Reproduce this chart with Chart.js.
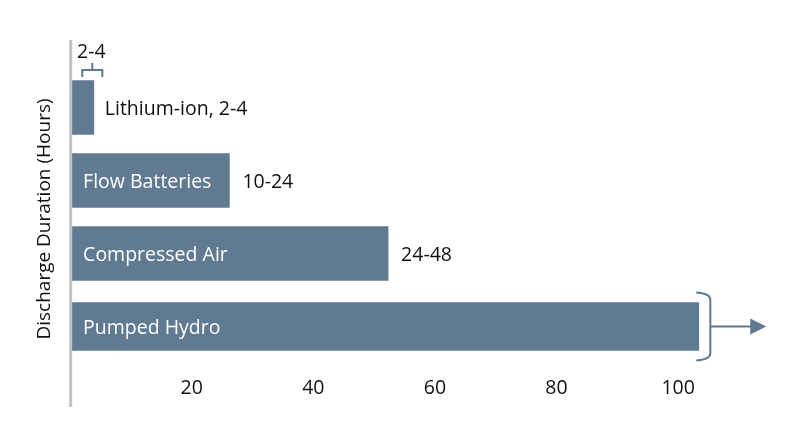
<!DOCTYPE html>
<html>
<head>
<meta charset="utf-8">
<script src="https://cdn.jsdelivr.net/npm/chart.js@4.4.0/dist/chart.umd.min.js"></script>
<style>
  html, body { margin: 0; padding: 0; background: #fff; }
  #wrap { width: 800px; height: 447px; }
</style>
</head>
<body>
<div id="wrap"><canvas id="storageChart"></canvas></div>
<script>
// values (hours)
const categories = ['Lithium-ion', 'Flow Batteries', 'Compressed Air', 'Pumped Hydro'];
const barLengths = [3.9, 26.2, 52.3, 103.4];
const rangeLabels = ['2-4', '10-24', '24-48', ''];
const xTicks = [20, 40, 60, 80, 100];
const lithiumBracket = [2, 5.3];
const hydroBracketAt = 105.3;
const hydroArrowTo = 114.5;
const axisTitle = 'Discharge Duration (Hours)';

const barColor = '#607a92';
const textColor = '#111111';
const fontFamily = '"Open Sans", "Noto Sans", sans-serif';

// pumped hydro bar is drawn a bit thinner than the rest
const mainBars = barLengths.map((v, i) => i < 3 ? v : null);
const hydroBars = barLengths.map((v, i) => i === 3 ? v : null);

const annotations = {
    id: 'annotations',
    afterDatasetsDraw(chart) {
        const ctx = chart.ctx;
        const x = chart.scales.x;
        const area = chart.chartArea;
        const bars = chart.getDatasetMeta(0).data;
        const hydro = chart.getDatasetMeta(1).data[3];

        ctx.save();
        // y axis line
        ctx.strokeStyle = '#c4c4c4';
        ctx.lineWidth = 3;
        ctx.beginPath();
        ctx.moveTo(70.7, 40);
        ctx.lineTo(70.7, 407);
        ctx.stroke();

        ctx.font = '19.5px ' + fontFamily;
        ctx.textBaseline = 'middle';
        ctx.textAlign = 'left';

        // lithium label sits outside its bar
        ctx.fillStyle = textColor;
        ctx.fillText(categories[0] + ', ' + rangeLabels[0], bars[0].x + 11, bars[0].y + 1.5);

        for (let i = 1; i < categories.length; i++) {
            const bar = i === 3 ? hydro : bars[i];
            ctx.fillStyle = '#ffffff';
            ctx.fillText(categories[i], area.left + 13, bar.y + 1.5);
            if (rangeLabels[i]) {
                ctx.fillStyle = textColor;
                ctx.fillText(rangeLabels[i], bar.x + 13, bar.y + 1.5);
            }
        }

        // 2-4 bracket above lithium bar
        const b0 = x.getPixelForValue(lithiumBracket[0]);
        const b1 = x.getPixelForValue(lithiumBracket[1]);
        const bm = (b0 + b1) / 2;
        ctx.strokeStyle = barColor;
        ctx.lineWidth = 2;
        ctx.beginPath();
        ctx.moveTo(b0, 77);
        ctx.lineTo(b0, 70);
        ctx.lineTo(b1, 70);
        ctx.lineTo(b1, 77);
        ctx.moveTo(bm, 70);
        ctx.lineTo(bm, 63);
        ctx.stroke();
        ctx.fillStyle = textColor;
        ctx.textAlign = 'center';
        ctx.fillText(rangeLabels[0], bm - 1, 52);

        // bracket + arrow after pumped hydro
        const hx = x.getPixelForValue(hydroBracketAt);
        const ax = x.getPixelForValue(hydroArrowTo);
        const top = hydro.y - 33;
        const bot = hydro.y + 33;
        ctx.beginPath();
        ctx.moveTo(hx - 14, top - 1);
        ctx.quadraticCurveTo(hx, top, hx, top + 6);
        ctx.lineTo(hx, bot - 6);
        ctx.quadraticCurveTo(hx, bot, hx - 14, bot + 1);
        ctx.moveTo(hx, hydro.y);
        ctx.lineTo(ax - 14, hydro.y);
        ctx.stroke();
        ctx.fillStyle = barColor;
        ctx.beginPath();
        ctx.moveTo(ax, hydro.y);
        ctx.lineTo(ax - 16, hydro.y - 8);
        ctx.lineTo(ax - 16, hydro.y + 8);
        ctx.closePath();
        ctx.fill();

        // rotated axis title
        ctx.font = '19px ' + fontFamily;
        ctx.translate(45, 219);
        ctx.rotate(-Math.PI / 2);
        ctx.fillStyle = textColor;
        ctx.textAlign = 'center';
        ctx.fillText(axisTitle, 0, 0);
        ctx.restore();
    }
};

new Chart(document.getElementById('storageChart'), {
    type: 'bar',
    data: {
        labels: categories,
        datasets: [{
            data: mainBars,
            backgroundColor: barColor,
            barThickness: 54
        }, {
            data: hydroBars,
            backgroundColor: barColor,
            barThickness: 48
        }]
    },
    options: {
        indexAxis: 'y',
        responsive: true,
        maintainAspectRatio: false,
        animation: false,
        grouped: false,
        layout: { padding: { top: 71, right: 30.7, left: 0, bottom: 0 } },
        plugins: {
            legend: { display: false },
            tooltip: { enabled: false }
        },
        scales: {
            x: {
                min: 0,
                max: 115,
                grid: { display: false },
                border: { display: false },
                afterFit(scale) { scale.height = 84; },
                ticks: {
                    stepSize: 20,
                    autoSkip: false,
                    maxRotation: 0,
                    padding: 6,
                    color: textColor,
                    font: { family: fontFamily, size: 19.5 },
                    callback: v => xTicks.includes(v) ? v : ''
                }
            },
            y: {
                grid: { display: false },
                border: { display: false },
                ticks: { display: false },
                afterFit(scale) { scale.width = 70.1; }
            }
        }
    },
    plugins: [annotations]
});
</script>
</body>
</html>
